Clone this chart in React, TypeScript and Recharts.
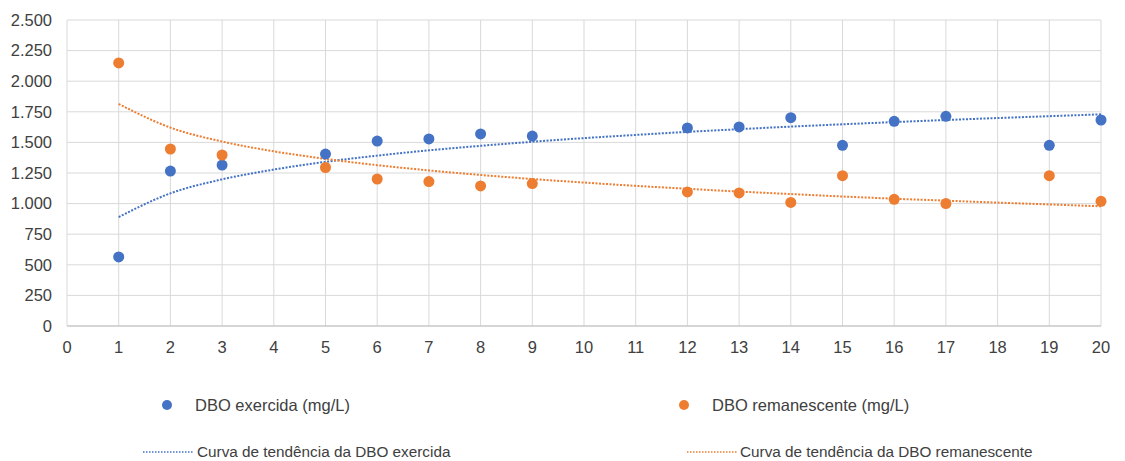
import {
  ComposedChart,
  Scatter,
  Line,
  XAxis,
  YAxis,
  CartesianGrid,
  Legend,
} from 'recharts';

if (typeof document !== 'undefined') {
  document.body.style.margin = '0';
}

// days with measurements
const days = [1, 2, 3, 5, 6, 7, 8, 9, 12, 13, 14, 15, 16, 17, 19, 20];
const exercida = [564, 1266, 1315, 1405, 1511, 1528, 1569, 1552, 1618, 1626, 1702, 1476, 1672, 1713, 1476, 1683];
const remanescente = [2149, 1446, 1397, 1295, 1201, 1180, 1144, 1164, 1095, 1087, 1010, 1228, 1035, 1000, 1228, 1019];

// trend curves at each day
const trendDays = [1, 2, 3, 4, 5, 6, 7, 8, 9, 10, 11, 12, 13, 14, 15, 16, 17, 18, 19, 20];
const trendExercida = [890, 1084, 1198, 1278, 1341, 1392, 1435, 1472, 1505, 1535, 1561, 1586, 1608, 1629, 1648, 1666, 1683, 1699, 1714, 1729];
const trendRemanescente = [1814, 1621, 1507, 1427, 1365, 1314, 1271, 1234, 1201, 1172, 1145, 1121, 1098, 1078, 1058, 1040, 1024, 1008, 993, 978];

const xTicks = [0, 1, 2, 3, 4, 5, 6, 7, 8, 9, 10, 11, 12, 13, 14, 15, 16, 17, 18, 19, 20];
const yTicks = [0, 250, 500, 750, 1000, 1250, 1500, 1750, 2000, 2250, 2500];

const BLUE = '#4472C4';
const ORANGE = '#ED7D31';
const TEXT = '#404040';
const FONT = '"Liberation Sans", Arial, sans-serif';
const FS = 16.5;

const pointsE = days.map((d, i) => ({ x: d, y: exercida[i] }));
const pointsR = days.map((d, i) => ({ x: d, y: remanescente[i] }));
const trendE = trendDays.map((d, i) => ({ x: d, y: trendExercida[i] }));
const trendR = trendDays.map((d, i) => ({ x: d, y: trendRemanescente[i] }));

const fmt = (v: number) => String(v).replace(/\B(?=(\d{3})+(?!\d))/g, '.');

const Dot = (color: string) => (props: any) => (
  <circle cx={props.cx} cy={props.cy} r={5.5} fill={color} />
);

const textStyle: React.CSSProperties = {
  position: 'absolute',
  fontFamily: FONT,
  fontSize: FS,
  color: TEXT,
  whiteSpace: 'nowrap',
  lineHeight: '18px',
};

const trendText: React.CSSProperties = { ...textStyle, fontSize: 15.3 };

function CustomLegend() {
  return (
    <div style={{ position: 'relative', width: 1125, height: 81 }}>
      <svg width={1125} height={81} style={{ position: 'absolute', left: 0, top: 0 }}>
        <circle cx={167} cy={25} r={5} fill={BLUE} />
        <circle cx={684} cy={25} r={5} fill={ORANGE} />
        <line x1={143} x2={193} y1={72} y2={72} stroke={BLUE} strokeWidth={1.5} strokeDasharray="1.5 1.5" />
        <line x1={687} x2={737} y1={72} y2={72} stroke={ORANGE} strokeWidth={1.5} strokeDasharray="1.5 1.5" />
      </svg>
      <div style={{ ...textStyle, left: 195, top: 16 }}>DBO exercida (mg/L)</div>
      <div style={{ ...textStyle, left: 712, top: 16 }}>DBO remanescente (mg/L)</div>
      <div style={{ ...trendText, left: 197, top: 63 }}>Curva de tendência da DBO exercida</div>
      <div style={{ ...trendText, left: 740, top: 63 }}>Curva de tendência da DBO remanescente</div>
    </div>
  );
}

export default function App() {
  return (
    <div style={{ width: 1125, height: 461, background: '#fff' }}>
      <ComposedChart
        width={1125}
        height={461}
        margin={{ top: 20, right: 24, left: 0, bottom: 24 }}
      >
        <CartesianGrid stroke="#d9d9d9" strokeWidth={1} />
        <XAxis
          dataKey="x"
          type="number"
          domain={[0, 20]}
          ticks={xTicks}
          interval={0}
          tickLine={false}
          axisLine={{ stroke: '#bfbfbf' }}
          tickMargin={9}
          tick={{ fontSize: FS, fill: TEXT, fontFamily: FONT }}
          allowDuplicatedCategory={false}
        />
        <YAxis
          type="number"
          domain={[0, 2500]}
          ticks={yTicks}
          interval={0}
          width={67}
          tickLine={false}
          axisLine={false}
          tickMargin={9}
          tickFormatter={fmt}
          tick={{ fontSize: FS, fill: TEXT, fontFamily: FONT }}
        />
        <Line
          data={trendE}
          dataKey="y"
          type="monotone"
          stroke={BLUE}
          strokeWidth={2}
          strokeDasharray="2 1.5"
          dot={false}
          activeDot={false}
          isAnimationActive={false}
        />
        <Line
          data={trendR}
          dataKey="y"
          type="monotone"
          stroke={ORANGE}
          strokeWidth={2}
          strokeDasharray="2 1.5"
          dot={false}
          activeDot={false}
          isAnimationActive={false}
        />
        <Scatter data={pointsE} dataKey="y" fill={BLUE} shape={Dot(BLUE)} isAnimationActive={false} />
        <Scatter data={pointsR} dataKey="y" fill={ORANGE} shape={Dot(ORANGE)} isAnimationActive={false} />
        <Legend
          content={() => <CustomLegend />}
          wrapperStyle={{ position: 'absolute', left: 0, top: 380, width: 1125, height: 81 }}
        />
      </ComposedChart>
    </div>
  );
}
